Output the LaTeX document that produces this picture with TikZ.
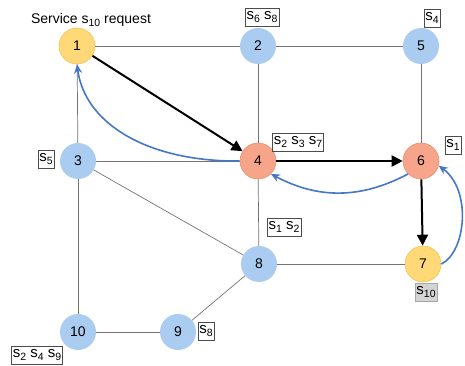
\documentclass[tikz,border=0pt]{standalone}
\usepackage{fontspec}
\setmainfont{Liberation Sans}
\usepackage{tikz}
\usetikzlibrary{
	positioning,
	arrows.meta
}
\definecolor{nodeblue}{HTML}{A9CCF0}
\definecolor{nodeorange}{HTML}{F6A58A}
\definecolor{orangeline}{HTML}{E8906E}
\definecolor{nodeyellow}{HTML}{FFD878}
\definecolor{yellowline}{HTML}{F2C45A}
\definecolor{curveblue}{HTML}{4677C6}
\definecolor{tagfill}{HTML}{D4D4D4}
\newcommand{\sv}[1]{s\raisebox{-0.45ex}{\fontsize{10.5}{12}\selectfont #1}}

\begin{document}
\begin{tikzpicture}[x=1pt,y=-1pt,
    font=\fontsize{14}{16}\selectfont,
    site/.style={circle,minimum size=36pt,inner sep=0pt,fill=nodeblue},
    busy/.style={site,fill=nodeorange,draw=orangeline,line width=0.6pt},
    user/.style={site,fill=nodeyellow,draw=yellowline,line width=0.6pt},
    tag/.style={draw=black!70,fill=white,line width=0.5pt,inner sep=1.5pt,
        minimum height=18pt,font=\fontsize{15}{16}\selectfont},
    link/.style={draw=black!55,line width=0.7pt},
    route/.style={draw=black,line width=2pt,-{Triangle[length=11pt,width=11pt]}},
    back/.style={draw=curveblue,line width=1.6pt,-{Stealth[length=9pt,width=8pt]}}
]
    \useasboundingbox (0,0) rectangle (465,366);

    \node [user] (n1) at (77,46) {1};
    \node [site] (n2) at (258,46) {2};
    \node [site] (n5) at (421,46) {5};
    \node [site] (n3) at (78,161) {3};
    \node [busy] (n4) at (258,161) {4};
    \node [busy] (n6) at (421,161) {6};
    \node [site] (n8) at (259,264) {8};
    \node [user] (n7) at (423,264) {7};
    \node [site] (n10) at (78,332) {10};
    \node [site] (n9) at (178,332) {9};

    \node (req) at (91,20) {Service \sv{10} request};
    \node [tag] (t2) at (262,17) {\sv{6} \sv{8}};
    \node [tag] (t5) at (432,18) {\sv{4}};
    \node [tag] (t3) at (46,159) {\sv{5}};
    \node [tag] (t4) at (298,142) {\sv{2} \sv{3} \sv{7}};
    \node [tag] (t6) at (453,145) {\sv{1}};
    \node [tag] (t8) at (284,227) {\sv{1} \sv{2}};
    \node [tag,fill=tagfill,draw=black!35] (t7) at (426,292) {\sv{10}};
    \node [tag] (t9) at (206,331) {\sv{8}};
    \node [tag] (t10) at (37,355) {\sv{2} \sv{4} \sv{9}};

    % links
    \draw [link] (n1) -- (n2);
    \draw [link] (n2) -- (n5);
    \draw [link] (n2) -- (n4);
    \draw [link] (n5) -- (n6);
    \draw [link] (n1) -- (n3);
    \draw [link] (n3) -- (n4);
    \draw [link] (n3) -- (n8);
    \draw [link] (n3) -- (n10);
    \draw [link] (n4) -- (n8);
    \draw [link] (n8) -- (n7);
    \draw [link] (n8) -- (n9);
    \draw [link] (n10) -- (n9);

    % service path
    \draw [route] (n1) -- (n4);
    \draw [route] (n4) -- (n6);
    \draw [route] (n6) -- (n7);

    % reply path
    \draw [back] (n7.east) .. controls (466,252) and (472,190) .. (n6.-15);
    \draw [back] (n6.south west) to[bend left=28] (n4.south east);
    \draw [back] (n4.west) .. controls (150,162) and (85,125) .. (n1.south);
\end{tikzpicture}
\end{document}
